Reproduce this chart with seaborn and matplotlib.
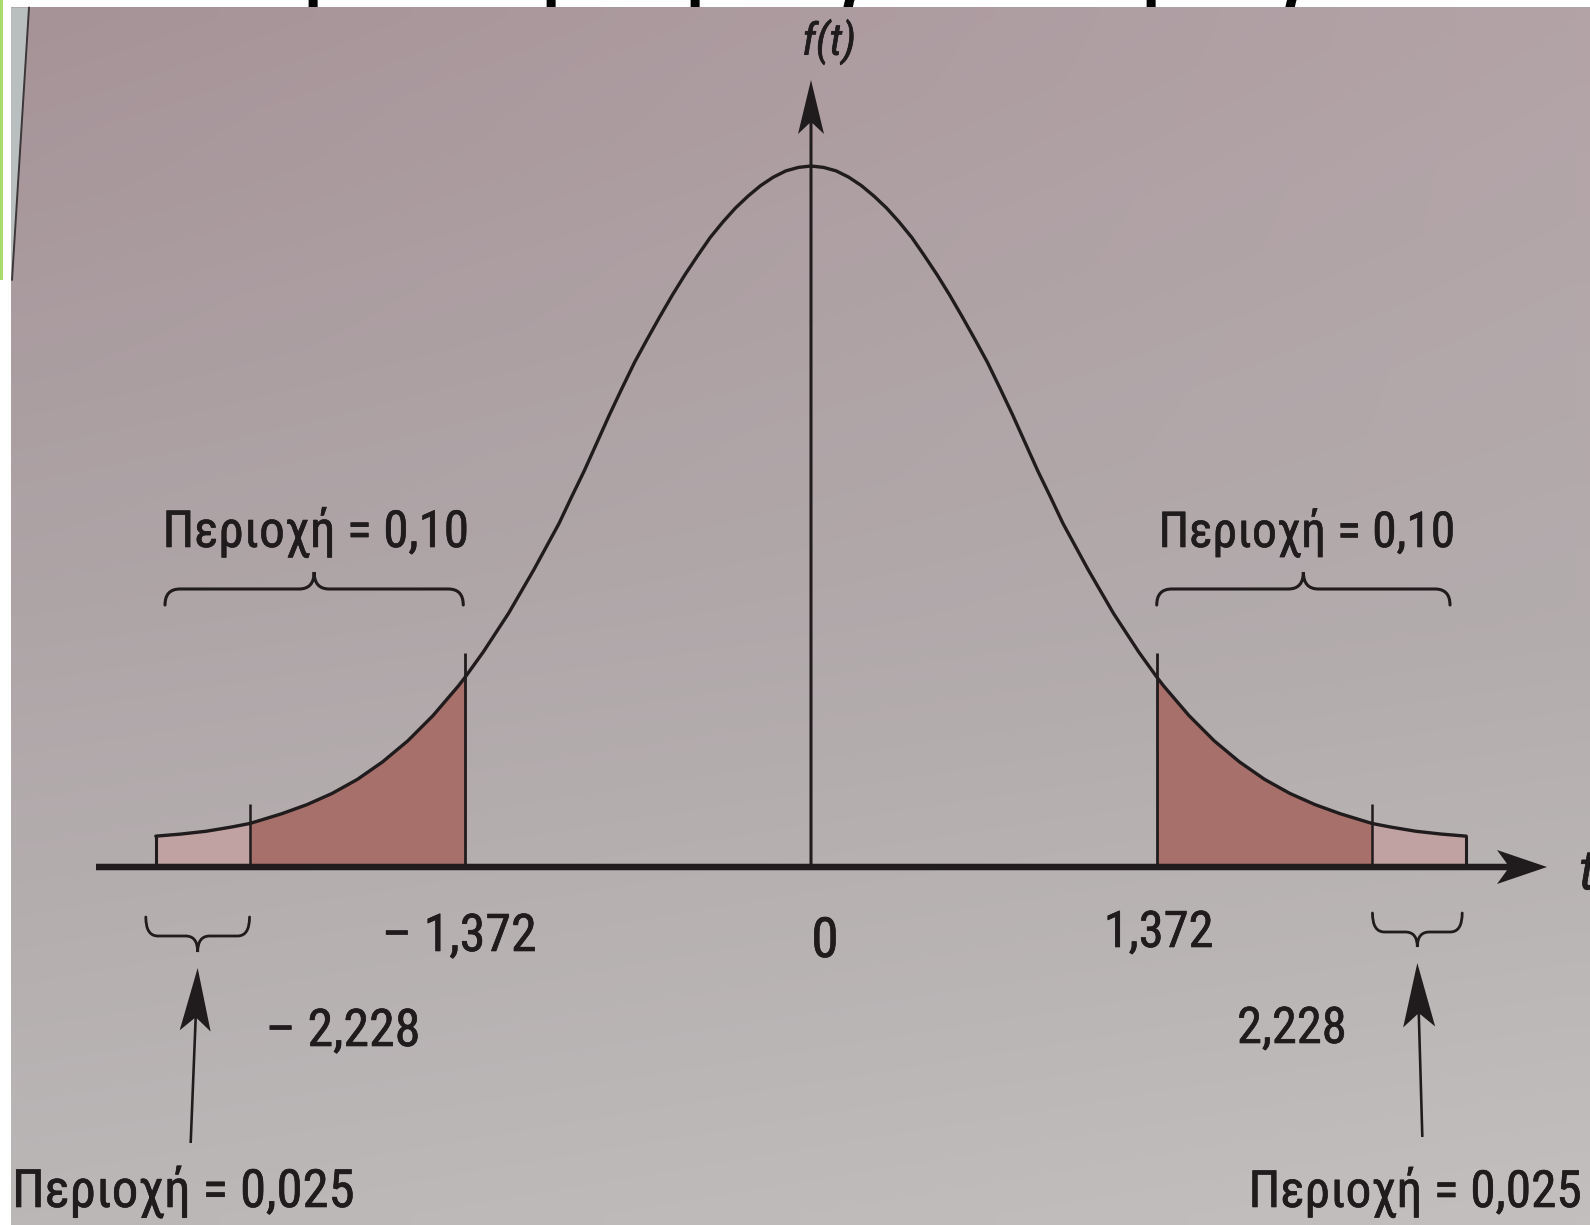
import os
import numpy as np
import pandas as pd
import matplotlib
matplotlib.use("Agg")
import matplotlib.pyplot as plt
from matplotlib import font_manager as fm
from matplotlib import patheffects as pe
from matplotlib.patches import FancyArrow, Polygon, Rectangle, PathPatch
from matplotlib.path import Path
import seaborn as sns

# ---------------- data ----------------
t_values = [-2.6, -2.5, -2.4, -2.3, -2.228, -2.2, -2.1, -2.0, -1.9, -1.8,
            -1.7, -1.6, -1.5, -1.4, -1.372, -1.3, -1.2, -1.1, -1.0, -0.95,
            -0.9, -0.85, -0.8, -0.75, -0.7, -0.65, -0.6, -0.55, -0.5, -0.45,
            -0.4, -0.35, -0.3, -0.25, -0.2, -0.15, -0.1, -0.05, 0.0,
            0.05, 0.1, 0.15, 0.2, 0.25, 0.3, 0.35, 0.4, 0.45, 0.5,
            0.55, 0.6, 0.65, 0.7, 0.75, 0.8, 0.85, 0.9, 0.95, 1.0,
            1.1, 1.2, 1.3, 1.372, 1.4, 1.5, 1.6, 1.7, 1.8, 1.9,
            2.0, 2.1, 2.2, 2.228, 2.3, 2.4, 2.5, 2.6]
density = [0.044, 0.047, 0.051, 0.057, 0.062, 0.065, 0.076, 0.089, 0.105, 0.125,
           0.150, 0.180, 0.216, 0.258, 0.271, 0.307, 0.362, 0.424, 0.490, 0.528,
           0.565, 0.605, 0.645, 0.683, 0.720, 0.753, 0.785, 0.816, 0.845, 0.872,
           0.898, 0.920, 0.940, 0.957, 0.972, 0.984, 0.993, 0.998, 1.000,
           0.998, 0.993, 0.984, 0.972, 0.957, 0.940, 0.920, 0.898, 0.872, 0.845,
           0.816, 0.785, 0.753, 0.720, 0.683, 0.645, 0.605, 0.565, 0.528, 0.490,
           0.424, 0.362, 0.307, 0.271, 0.258, 0.216, 0.180, 0.150, 0.125, 0.105,
           0.089, 0.076, 0.065, 0.062, 0.057, 0.051, 0.047, 0.044]
crit_inner = 1.372      # t(0.10; 10)
crit_outer = 2.228      # t(0.025; 10)
t_end = 2.6
area_big = "Περιοχή = 0,10"
area_small = "Περιοχή = 0,025"
tick_text = {"-2.228": "– 2,228", "-1.372": "– 1,372", "0": "0",
             "1.372": "1,372", "2.228": "2,228"}

df = pd.DataFrame({"t": t_values, "f": density})

# ---------------- style ----------------
sns.set_theme(style="white")
plt.rcParams["font.family"] = ["Liberation Sans", "DejaVu Sans"]
INK = "#201b1c"
DARK_FILL = "#a8706b"
LIGHT_FILL = "#c0a2a2"


def pick_narrow(style):
    prefs = ["Liberation Sans Narrow", "Roboto Condensed", "Arial Narrow",
             "Open Sans Condensed", "Noto Sans", "DejaVu Sans", "Lato", "Inter"]
    best, best_score = None, None
    for e in fm.fontManager.ttflist:
        fn = os.path.basename(e.fname)
        nm = e.name
        tag = nm + " " + fn
        if not ("Narrow" in tag or "Condensed" in tag or "condensed" in str(e.stretch)):
            continue
        if "Mono" in tag or "Serif" in tag or "Semi" in fn or "Extra" in fn or "Ultra" in fn:
            continue
        if e.style != style:
            continue
        try:
            w = int(e.weight)
        except Exception:
            w = 400 if str(e.weight) in ("normal", "regular", "book") else 700
        if w != 400:
            continue
        rank = len(prefs)
        for i, p in enumerate(prefs):
            if nm.startswith(p):
                rank = i
                break
        if best_score is None or rank < best_score:
            best, best_score = e.fname, rank
    return best


reg_file = pick_narrow("normal")
ita_file = pick_narrow("italic") or pick_narrow("oblique")
FP_REG = fm.FontProperties(fname=reg_file) if reg_file else fm.FontProperties(family="Liberation Sans")
FP_ITA = (fm.FontProperties(fname=ita_file) if ita_file
          else fm.FontProperties(family="Liberation Sans", style="italic"))
BOLDEN = [pe.Stroke(linewidth=0.45, foreground=INK), pe.Normal()]

W, H = 1590, 1225
fig = plt.figure(figsize=(W / 100, H / 100), dpi=100)
fig.patch.set_facecolor("white")

# layout mapping (pixels)
CX, KX = 811, 252        # pixel of t=0, pixels per t unit
AXIS_Y, KY = 867, 701     # pixel of f=0, pixels per unit of f


def px(tv):
    return CX + KX * tv

# ---- background (photo of page) ----
bg = fig.add_axes([0, 0, 1, 1], zorder=0)
bg.set_xlim(0, W); bg.set_ylim(H, 0); bg.axis("off")
top_l = np.array([166, 147, 152]); top_r = np.array([179, 163, 167])
mid_l = np.array([174, 165, 167]); mid_r = np.array([179, 172, 173])
bot_l = np.array([187, 183, 183]); bot_r = np.array([194, 191, 190])
ny, nx = 60, 60
yy = np.linspace(0, 1, ny)[:, None, None]
xx = np.linspace(0, 1, nx)[None, :, None]
upper = np.clip(1 - 2 * yy, 0, 1)
lower = np.clip(2 * yy - 1, 0, 1)
middle = 1 - upper - lower
left_col = upper * top_l + middle * mid_l + lower * bot_l
right_col = upper * top_r + middle * mid_r + lower * bot_r
grad = ((1 - xx) * left_col + xx * right_col) / 255.0
# cut-off heading of the slide above the photo
for xpos, ch in [(323, "ρ"), (561, "ρ"), (705, "ρ"), (850, "γ"), (1161, "ρ"), (1292, "γ")]:
    bg.text(xpos, -2, ch, fontsize=44, fontweight="bold", family="Open Sans",
            color="black", ha="center", va="baseline", zorder=0.5)
bg.imshow(grad, extent=[11, W, H, 7.5], aspect="auto", interpolation="bilinear", zorder=1)
bg.add_patch(Polygon([(11, 7.5), (29, 7.5), (12, 280), (11, 280)], closed=True,
                     facecolor="#b9bfbf", edgecolor="none", zorder=2))
bg.plot([29, 12], [7.5, 280], color="#3c3638", lw=1.4, zorder=3)
bg.add_patch(Rectangle((0, 0), 2.5, 280, facecolor="#a8dc6c", edgecolor="none", zorder=3))
bg.add_patch(Rectangle((0, 0), W, 7.5, facecolor="white", edgecolor="none", zorder=0.2))

# ---- data axes ----
ax = fig.add_axes([0, 0, 1, 1], zorder=1)
ax.patch.set_alpha(0)
sns.lineplot(data=df, x="t", y="f", ax=ax, color=INK, lw=2.4, sort=False,
             estimator=None, zorder=5)
ax.set_xlim(-CX / KX, (W - CX) / KX)
ax.set_ylim((AXIS_Y - H) / KY, AXIS_Y / KY)
ax.axis("off")

t = df["t"].to_numpy()
f = df["f"].to_numpy()
eps = 1e-9
for sgn in (-1, 1):
    side = np.sign(t) == sgn
    m_dark = side & (np.abs(t) >= crit_inner - eps) & (np.abs(t) <= crit_outer + eps)
    m_light = side & (np.abs(t) >= crit_outer - eps) & (np.abs(t) <= t_end + eps)
    ax.fill_between(t[m_dark], 0, f[m_dark], color=DARK_FILL, lw=0, zorder=2)
    ax.fill_between(t[m_light], 0, f[m_light], color=LIGHT_FILL, lw=0, zorder=2)


def f_at(x):
    return f[np.isclose(t, x)][0]

ext_inner, ext_outer = 24 / KY, 20 / KY
for c in (-crit_inner, crit_inner):
    ax.vlines(c, 0, f_at(c) + ext_inner, color=INK, lw=2.0, zorder=4)
for c in (-crit_outer, crit_outer):
    ax.vlines(c, 0, f_at(c) + ext_outer, color=INK, lw=1.8, zorder=4)
for c in (-t_end, t_end):
    ax.vlines(c, 0, f_at(c), color=INK, lw=2.2, zorder=4)

# ---- annotation canvas (pixel coordinates) ----
cv = fig.add_axes([0, 0, 1, 1], zorder=2)
cv.patch.set_alpha(0)
cv.set_xlim(0, W); cv.set_ylim(H, 0); cv.axis("off")

# axes arrows
cv.add_patch(FancyArrow(96, AXIS_Y, 1547 - 96, 0, width=6.5, head_width=34,
                        head_length=50, length_includes_head=True, overhang=0.2,
                        color=INK, lw=0))
cv.add_patch(FancyArrow(CX, AXIS_Y, 0, 80 - AXIS_Y, width=3, head_width=26,
                        head_length=54, length_includes_head=True, overhang=0.2,
                        color=INK, lw=0))


def brace(x0, x1, y_end, y_mid, y_cusp, r=15, lw=2.2):
    xm = (x0 + x1) / 2
    verts = [(x0, y_end), (x0, y_mid), (x0 + r, y_mid),
             (xm - r, y_mid),
             (xm, y_mid), (xm, y_cusp),
             (xm, y_mid), (xm + r, y_mid),
             (x1 - r, y_mid),
             (x1, y_mid), (x1, y_end)]
    codes = [Path.MOVETO, Path.CURVE3, Path.CURVE3, Path.LINETO,
             Path.CURVE3, Path.CURVE3, Path.CURVE3, Path.CURVE3,
             Path.LINETO, Path.CURVE3, Path.CURVE3]
    cv.add_patch(PathPatch(Path(verts, codes), facecolor="none", edgecolor=INK,
                           lw=lw, capstyle="round"))

brace(165, px(-crit_inner) - 2, 605, 589, 572)
brace(px(crit_inner), 1450, 605, 589, 572)
lb0, lb1 = px(-t_end) - 10, px(-crit_outer)
rb0, rb1 = px(crit_outer), px(t_end) - 4
brace(lb0, lb1, 917, 936, 952, r=12, lw=2.0)
brace(rb0, rb1, 913, 932, 947, r=12, lw=2.0)

# arrows from the small-area labels up to the small braces
lcx, rcx = (lb0 + lb1) / 2, (rb0 + rb1) / 2
cv.add_patch(FancyArrow(lcx - 7, 1143, 7, 968 - 1143, width=2.6, head_width=31,
                        head_length=63, length_includes_head=True, overhang=0.2,
                        color=INK, lw=0))
cv.add_patch(FancyArrow(rcx + 5, 1137, -5, 963 - 1137, width=2.6, head_width=32,
                        head_length=64, length_includes_head=True, overhang=0.2,
                        color=INK, lw=0))

renderer = fig.canvas.get_renderer()


def label(x, y, s, size, target_w=None, ha="center", va="baseline", italic=False):
    fp = (FP_ITA if italic else FP_REG).copy()
    fp.set_size(size)
    txt = cv.text(x, y, s, fontproperties=fp, color=INK, ha=ha, va=va)
    if target_w is not None:
        w = txt.get_window_extent(renderer).width
        fit = size * target_w / w
        if fit < size:
            fp2 = fp.copy()
            fp2.set_size(0.75 * fit + 0.25 * size)
            txt.set_fontproperties(fp2)
    txt.set_path_effects(BOLDEN)
    return txt

label(316, 547, area_big, 38, 303)
label(1307, 547, area_big, 38, 290)
label(12, 1207, area_small, 38, 345, ha="left")
label(1582, 1207, area_small, 38, 330, ha="right")

label(px(-crit_inner) - 6, 951, tick_text["-1.372"], 43, 147)
label(343, 1046, tick_text["-2.228"], 43, 147)
label(CX + 14, 957, tick_text["0"], 40)
label(px(crit_inner) + 2, 947, tick_text["1.372"], 43, 103)
label(1292, 1043, tick_text["2.228"], 43, 103)

label(CX + 18, 42, "f(t)", 32, 61, va="center", italic=True)
label(1579, 874, "t", 40, ha="left", va="center", italic=True)

fig.savefig("out.png", dpi=100)
